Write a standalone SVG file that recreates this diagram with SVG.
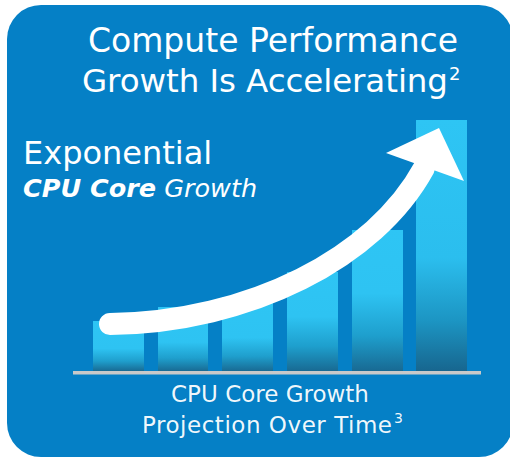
<svg xmlns="http://www.w3.org/2000/svg" width="510" height="460" viewBox="0 0 510 460">
  <defs>
    <style>
      .t { fill: #ffffff; font-family: "DejaVu Sans", "Liberation Sans", sans-serif; }
      .bar { stroke: none; }
    </style>
    <linearGradient id="gShort" x1="0" y1="0" x2="0" y2="1">
      <stop offset="0" stop-color="#2EC5F4"/>
      <stop offset="0.55" stop-color="#2EC3F2"/>
      <stop offset="0.8" stop-color="#1F9FCD"/>
      <stop offset="1" stop-color="#186B94"/>
    </linearGradient>
    <linearGradient id="gMid" x1="0" y1="0" x2="0" y2="1">
      <stop offset="0" stop-color="#2EC5F4"/>
      <stop offset="0.45" stop-color="#2EC3F2"/>
      <stop offset="0.75" stop-color="#1E9FCD"/>
      <stop offset="1" stop-color="#186A93"/>
    </linearGradient>
    <linearGradient id="gTall" x1="0" y1="0" x2="0" y2="1">
      <stop offset="0" stop-color="#2EC5F4"/>
      <stop offset="0.55" stop-color="#2BBEEE"/>
      <stop offset="0.8" stop-color="#1C95C3"/>
      <stop offset="1" stop-color="#17668F"/>
    </linearGradient>
  </defs>

  <!-- panel -->
  <rect x="7" y="5" width="506" height="452" rx="34" ry="34" fill="#0580C6"/>

  <!-- heading -->
  <g id="title">
    <text class="t" x="273" y="52" font-size="33" text-anchor="middle">Compute Performance</text>
    <text class="t" x="82" y="92" font-size="32.5" textLength="366">Growth Is Accelerating</text>
    <text class="t" x="449" y="80" font-size="18">2</text>
  </g>

  <!-- left caption -->
  <g id="caption">
    <text class="t" x="23" y="164" font-size="32">Exponential</text>
    <text class="t" x="23" y="197" font-size="25.5"><tspan font-weight="700" font-style="italic">CPU Core</tspan><tspan font-style="italic"> Growth</tspan></text>
  </g>

  <!-- bars -->
  <g id="bars">
    <rect id="bar1" class="bar" x="93" y="321" width="51" height="50" fill="url(#gShort)"/>
    <rect id="bar2" class="bar" x="158" y="307" width="50" height="64" fill="url(#gShort)"/>
    <rect id="bar3" class="bar" x="222" y="297" width="51" height="74" fill="url(#gShort)"/>
    <rect id="bar4" class="bar" x="287" y="272" width="51" height="99" fill="url(#gMid)"/>
    <rect id="bar5" class="bar" x="352" y="230" width="51" height="141" fill="url(#gMid)"/>
    <rect id="bar6" class="bar" x="416" y="120" width="51" height="251" fill="url(#gTall)"/>
  </g>

  <!-- baseline -->
  <rect id="axis" x="73" y="371" width="408" height="3.5" fill="#C9C9C9"/>

  <!-- growth arrow -->
  <g id="connectors">
    <path d="M110,324 C250,322 375,258 424,168" fill="none" stroke="#ffffff" stroke-width="22" stroke-linecap="round"/>
    <polygon points="386,153 439,128 464,181" fill="#ffffff"/>
  </g>

  <!-- bottom caption -->
  <g id="footer">
    <text class="t" x="270" y="402" font-size="23" text-anchor="middle" fill-opacity="0.95">CPU Core Growth</text>
    <text class="t" x="142" y="433" font-size="23" textLength="250" fill-opacity="0.95">Projection Over Time</text>
    <text class="t" x="394" y="423" font-size="14" fill-opacity="0.95">3</text>
  </g>
</svg>
